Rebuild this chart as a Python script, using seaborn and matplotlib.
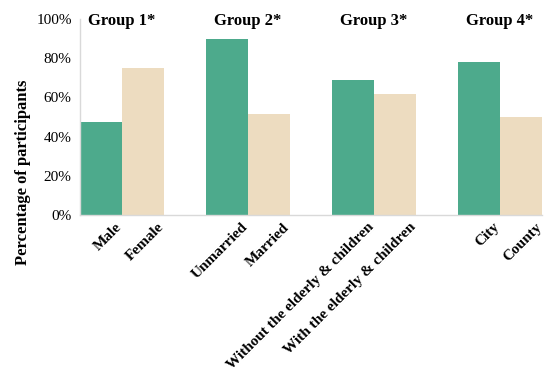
import seaborn as sns
import matplotlib.pyplot as plt
import matplotlib.transforms as mtransforms
import pandas as pd
import numpy as np

sns.set_style("white")
plt.rcParams["font.family"] = ["Liberation Serif", "DejaVu Serif"]
plt.rcParams["text.color"] = "black"
plt.rcParams["axes.labelcolor"] = "black"
plt.rcParams["xtick.color"] = "black"
plt.rcParams["ytick.color"] = "black"

# values (percent of participants)
categories = ["Male", "Female", "Unmarried", "Married",
              "Without the elderly & children", "With the elderly & children",
              "City", "County"]
values = [47.5, 75, 90, 51.5, 69, 62, 78, 50]
kinds = ["a", "b", "a", "b", "a", "b", "a", "b"]
groups = ["Group 1*", "Group 2*", "Group 3*", "Group 4*"]

df = pd.DataFrame({"category": categories, "value": values, "kind": kinds})

# empty slots between the groups
order = ["Male", "Female", " ", "Unmarried", "Married", "  ",
         "Without the elderly & children", "With the elderly & children", "   ",
         "City", "County"]

fig = plt.figure(figsize=(5.5, 3.71), dpi=100)
ax = fig.add_axes([0.1455, 0.4205, 0.84, 0.528])

sns.barplot(data=df, x="category", y="value", hue="kind", order=order,
            palette={"a": "#4DAA8C", "b": "#EDDCC0"}, dodge=False,
            width=1.0, saturation=1, linewidth=0, legend=False, ax=ax)

ax.set_ylim(0, 100)
ax.set_xlim(-0.5, len(order) - 0.5)
ax.set_yticks(range(0, 101, 20))
ax.set_yticklabels([f"{v}%" for v in range(0, 101, 20)], fontsize=11)
ax.set_xlabel("")
ax.set_ylabel("Percentage of participants", fontsize=12, fontweight="bold")
ax.yaxis.set_label_coords(-0.107, 0.22)

labels = [t if t.strip() else "" for t in order]
ax.set_xticks(range(len(order)))
ax.set_xticklabels(labels, rotation=45, ha="right", rotation_mode="anchor",
                   fontsize=11, fontweight="bold")
ax.tick_params(axis="both", length=0, pad=6)
ax.tick_params(axis="x", pad=4)

shift = mtransforms.ScaledTranslation(14 / 100, 0, fig.dpi_scale_trans)
for lab in ax.get_xticklabels():
    lab.set_transform(lab.get_transform() + shift)

for side in ["top", "right"]:
    ax.spines[side].set_visible(False)
for side in ["left", "bottom"]:
    ax.spines[side].set_color("#D9D9D9")
    ax.spines[side].set_linewidth(1)

for i, g in enumerate(groups):
    ax.text(i * 3 + 0.5, 0.99, g, transform=ax.get_xaxis_transform(),
            ha="center", va="center", fontsize=12, fontweight="bold")

fig.savefig("out.png", dpi=100)
